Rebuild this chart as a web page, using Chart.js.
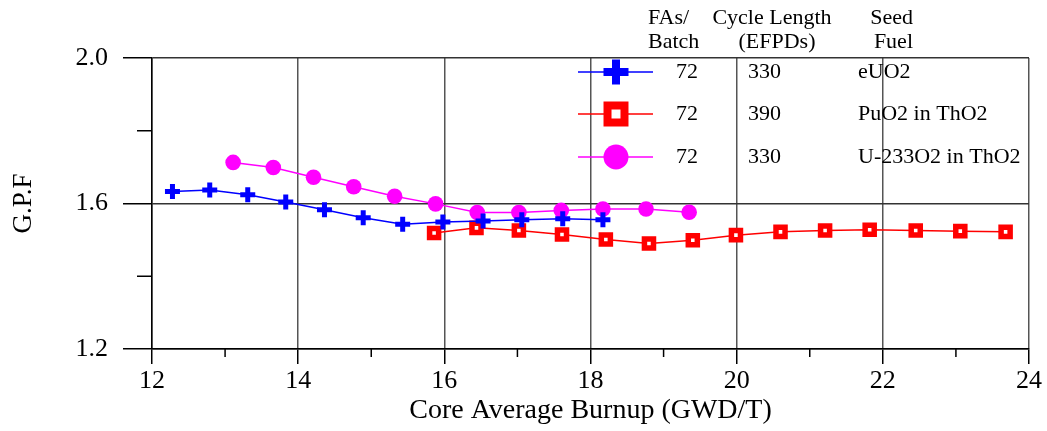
<!DOCTYPE html>
<html>
<head>
<meta charset="utf-8">
<script src="https://cdn.jsdelivr.net/npm/chart.js@4/dist/chart.umd.min.js"></script>
<style>
  html, body { margin: 0; padding: 0; background: #fff; }
  #wrap { width: 1047px; height: 431px; position: relative; }
</style>
</head>
<body>
<div id="wrap"><canvas id="c" width="1047" height="431"></canvas></div>
<script>
// ---- Data ----
const euo2Burnup = [12.28, 12.79, 13.31, 13.83, 14.36, 14.89, 15.43, 15.98, 16.53, 17.06, 17.62, 18.17];
const euo2Gpf    = [1.633, 1.637, 1.624, 1.604, 1.583, 1.561, 1.543, 1.549, 1.552, 1.555, 1.558, 1.555];

const puo2Burnup = [15.86, 16.44, 17.02, 17.61, 18.21, 18.80, 19.40, 19.99, 20.60, 21.21, 21.82, 22.45, 23.06, 23.68];
const puo2Gpf    = [1.519, 1.533, 1.526, 1.515, 1.501, 1.490, 1.499, 1.513, 1.522, 1.526, 1.528, 1.526, 1.524, 1.522];

const u233Burnup = [13.11, 13.66, 14.21, 14.76, 15.32, 15.88, 16.45, 17.02, 17.60, 18.17, 18.76, 19.35];
const u233Gpf    = [1.713, 1.699, 1.672, 1.646, 1.620, 1.599, 1.575, 1.575, 1.581, 1.585, 1.585, 1.576];

const legendFAs   = ['72', '72', '72'];
const legendCycle = ['330', '390', '330'];
const legendSeed  = ['eUO2', 'PuO2 in ThO2', 'U-233O2 in ThO2'];

const xTicks = [12, 14, 16, 18, 20, 22, 24];
const yTicks = [1.2, 1.6, 2.0];

const FONT = '"Liberation Serif", "Times New Roman", serif';

function pts(xs, ys) { return xs.map((x, i) => ({ x: x, y: ys[i] })); }

const seriesStyles = [
  { color: '#0000ff', pointStyle: 'cross', radius: 7.5, bw: 5, lradius: 12.5, lbw: 8 },
  { color: '#ff0000', pointStyle: 'rect', radius: 6.4, bw: 5.5, lradius: 12, lbw: 8 },
  { color: '#ff00ff', pointStyle: 'circle', radius: 7.8, bw: 0, lradius: 12.5, lbw: 0 }
];

const minorTicks = {
  id: 'minorTicks',
  afterDraw(chart) {
    const ctx = chart.ctx, a = chart.chartArea;
    const xs = chart.scales.x, ys = chart.scales.y;
    ctx.save();
    ctx.strokeStyle = '#000';
    ctx.lineWidth = 1.5;
    for (let v = 13; v < 24; v += 2) {
      const px = xs.getPixelForValue(v);
      ctx.beginPath(); ctx.moveTo(px, a.bottom); ctx.lineTo(px, a.bottom + 8); ctx.stroke();
    }
    [1.4, 1.8].forEach(v => {
      const py = ys.getPixelForValue(v);
      ctx.beginPath(); ctx.moveTo(a.left - 15, py); ctx.lineTo(a.left, py); ctx.stroke();
    });
    ctx.restore();
  }
};

const tableLegend = {
  id: 'tableLegend',
  afterDraw(chart) {
    const ctx = chart.ctx;
    ctx.save();
    ctx.fillStyle = '#000';
    ctx.font = '22px ' + FONT;
    ctx.textBaseline = 'middle';
    // headers
    ctx.textAlign = 'left';
    ctx.fillText('FAs/', 648, 18);
    ctx.fillText('Batch', 648, 42);
    ctx.textAlign = 'center';
    ctx.fillText('Cycle Length', 772, 18);
    ctx.fillText('(EFPDs)', 777, 42);
    ctx.textAlign = 'right';
    ctx.fillText('Seed', 913, 18);
    ctx.fillText('Fuel', 913, 42);

    const rowsY = [72, 114, 157];
    rowsY.forEach((ry, i) => {
      const s = seriesStyles[i];
      ctx.strokeStyle = s.color;
      ctx.fillStyle = s.color;
      ctx.lineWidth = 1.5;
      ctx.beginPath(); ctx.moveTo(578, ry); ctx.lineTo(653, ry); ctx.stroke();
      // marker
      ctx.lineWidth = s.lbw;
      if (s.pointStyle === 'rect') {
        ctx.fillStyle = '#fff';
      }
      Chart.helpers.drawPoint(ctx, { pointStyle: s.pointStyle, radius: s.lradius, rotation: 0, borderWidth: s.lbw }, 616, ry);
      ctx.fillStyle = '#000';
      ctx.textAlign = 'right';
      ctx.fillText(legendFAs[i], 698, ry);
      ctx.textAlign = 'left';
      ctx.fillText(legendCycle[i], 748, ry);
      ctx.fillText(legendSeed[i], 858, ry);
    });
    ctx.restore();
  }
};

new Chart(document.getElementById('c'), {
  type: 'scatter',
  data: {
    datasets: [
      { label: 'eUO2', data: pts(euo2Burnup, euo2Gpf), showLine: true,
        borderColor: '#0000ff', backgroundColor: '#0000ff', borderWidth: 1.5,
        pointStyle: 'cross', pointRadius: seriesStyles[0].radius, pointBorderWidth: seriesStyles[0].bw, pointBorderColor: '#0000ff' },
      { label: 'PuO2 in ThO2', data: pts(puo2Burnup, puo2Gpf), showLine: true,
        borderColor: '#ff0000', backgroundColor: '#ffffff', borderWidth: 1.5,
        pointStyle: 'rect', pointRadius: seriesStyles[1].radius, pointBorderWidth: seriesStyles[1].bw, pointBorderColor: '#ff0000', pointBackgroundColor: '#ffffff' },
      { label: 'U-233O2 in ThO2', data: pts(u233Burnup, u233Gpf), showLine: true,
        borderColor: '#ff00ff', backgroundColor: '#ff00ff', borderWidth: 1.5,
        pointStyle: 'circle', pointRadius: seriesStyles[2].radius, pointBorderWidth: 0, pointBackgroundColor: '#ff00ff' }
    ]
  },
  options: {
    responsive: false,
    animation: false,
    layout: { padding: { top: 58, right: 18, left: 0, bottom: 0 } },
    plugins: { legend: { display: false }, tooltip: { enabled: false } },
    scales: {
      x: {
        type: 'linear', min: 12, max: 24,
        afterFit(scale) { scale.height = 82; },
        border: { display: true, color: '#000', width: 1.5 },
        grid: {
          drawTicks: true, tickLength: 15,
          color: c => (c.tick && xTicks.includes(c.tick.value)) ? '#555' : 'rgba(0,0,0,0)',
          tickColor: c => (c.tick && xTicks.includes(c.tick.value)) ? '#000' : 'rgba(0,0,0,0)',
          lineWidth: 1.5, tickWidth: 1.5
        },
        ticks: {
          stepSize: 1, autoSkip: false, maxRotation: 0, padding: 2,
          color: '#000', font: { family: FONT, size: 26 },
          callback: v => xTicks.includes(v) ? String(v) : ''
        },
        title: {
          display: true, text: 'Core Average Burnup (GWD/T)', color: '#000',
          font: { family: FONT, size: 28 }, padding: { top: 0, bottom: 4 }
        }
      },
      y: {
        type: 'linear', min: 1.2, max: 2.0,
        afterFit(scale) { scale.width = 152; },
        border: { display: true, color: '#000', width: 1.5 },
        grid: {
          drawTicks: true, tickLength: 29,
          color: c => (c.tick && yTicks.some(t => Math.abs(t - c.tick.value) < 1e-6)) ? '#333' : 'rgba(0,0,0,0)',
          tickColor: c => (c.tick && yTicks.some(t => Math.abs(t - c.tick.value) < 1e-6)) ? '#000' : 'rgba(0,0,0,0)',
          lineWidth: 1.5, tickWidth: 1.5
        },
        ticks: {
          stepSize: 0.2, autoSkip: false, padding: 15,
          color: '#000', font: { family: FONT, size: 26 },
          callback: v => yTicks.some(t => Math.abs(t - v) < 1e-6) ? v.toFixed(1) : ''
        },
        title: {
          display: true, text: 'G.P.F', color: '#000',
          font: { family: FONT, size: 27 }, padding: { top: 8, bottom: 0 }
        }
      }
    }
  },
  plugins: [minorTicks, tableLegend]
});
</script>
</body>
</html>
